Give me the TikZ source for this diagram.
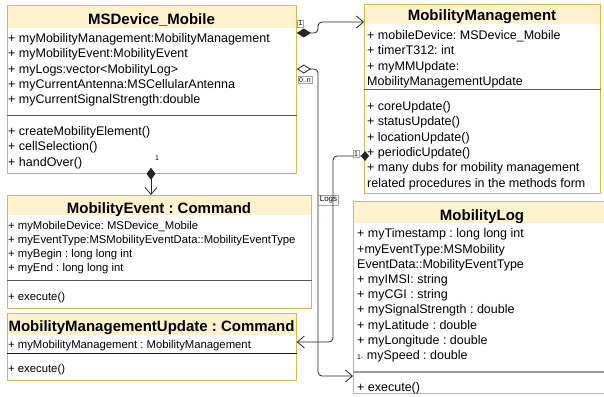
\documentclass[tikz,border=0pt]{standalone}
\usepackage{fontspec}
\setmainfont{Liberation Sans}
\usetikzlibrary{arrows.meta}
\frenchspacing
\definecolor{umlborder}{HTML}{D6B656}
\definecolor{umlfill}{HTML}{FFF2CC}
\newcommand{\umltitle}{\fontsize{15}{18}\selectfont\bfseries}
\newcommand{\umlnorm}{\fontsize{12.5}{15.3}\selectfont}
\newcommand{\umlsmall}{\fontsize{11.3}{14}\selectfont}
\newcommand{\umltiny}{\fontsize{7}{8}\selectfont}
\tikzset{
  >={Straight Barb[length=7pt,width=12pt]},
  classbox/.style={draw=umlborder, line width=0.8pt, fill=white, anchor=north west,
    inner sep=0pt, path picture={\fill[umlfill] (path picture bounding box.north west)
    rectangle ([yshift=-#1]path picture bounding box.north east);}},
  classtitle/.style={anchor=base, inner sep=0pt, font=\umltitle},
  classtext/.style={anchor=north west, inner sep=0pt, align=left, font=\umlnorm},
  classsep/.style={draw=black!65, line width=0.9pt},
  link/.style={draw=black!85, line width=0.8pt, rounded corners=4pt},
  compose/.style={link, {Diamond[length=14pt,width=9pt]}->},
  aggreg/.style={link, {Diamond[open,length=14pt,width=9pt]}->},
  mult/.style={draw=black!35, line width=0.4pt, fill=white, inner sep=1.2pt, font=\umltiny},
}

\begin{document}
\begin{tikzpicture}[x=1pt,y=-1pt]
\useasboundingbox (0,0) rectangle (604,396);

% MSDevice_Mobile
\node[classbox=23pt, minimum width=289pt, minimum height=168pt] (msd) at (7,5) {};
\node[classtitle] (msdtitle) at (151.5,25) {MSDevice\_Mobile};
\node[classtext] (msdattr) at (8,33.4) {+ myMobilityManagement:MobilityManagement\\
+ myMobilityEvent:MobilityEvent\\
+ myLogs:vector<MobilityLog>\\
+ myCurrentAntenna:MSCellularAntenna\\
+ myCurrentSignalStrength:double};
\draw[classsep] (msd.west |- 0,115) -- (msd.east |- 0,115);
\node[classtext] (msdops) at (8,126.4) {+ createMobilityElement()\\
+ cellSelection()\\
+ handOver()};

% MobilityManagement
\node[classbox=20pt, minimum width=236pt, minimum height=189pt] (mm) at (364,4) {};
\node[classtitle] (mmtitle) at (482,21) {MobilityManagement};
\node[classtext] (mmattr) at (367,30.4) {+ mobileDevice: MSDevice\_Mobile\\
+ timerT312: int\\
+ myMMUpdate:\\
MobilityManagementUpdate};
\draw[classsep] (mm.west |- 0,89) -- (mm.east |- 0,89);
\node[classtext] (mmops) at (367,101.4) {+ coreUpdate()\\
+ statusUpdate()\\
+ locationUpdate()\\
+ periodicUpdate()\\
+ many dubs for mobility management\\
related procedures in the methods form};

% MobilityEvent : Command
\node[classbox=20pt, minimum width=304pt, minimum height=113pt] (me) at (7,195) {};
\node[classtitle] (metitle) at (159,213.5) {MobilityEvent : Command};
\node[classtext, font=\umlsmall] (meattr) at (8,221.3) {+ myMobileDevice: MSDevice\_Mobile\\
+ myEventType:MSMobilityEventData::MobilityEventType\\
+ myBegin : long long int\\
+ myEnd : long long int};
\draw[classsep] (me.west |- 0,280) -- (me.east |- 0,280);
\node[classtext, font=\umlsmall] (meops) at (8,291.8) {+ execute()};

% MobilityManagementUpdate : Command
\node[classbox=22pt, minimum width=289pt, minimum height=67pt] (mmu) at (7,313) {};
\node[classtitle] (mmutitle) at (151.5,331.5) {MobilityManagementUpdate : Command};
\node[classtext, font=\umlsmall] (mmuattr) at (8,339.8) {+ myMobilityManagement : MobilityManagement};
\draw[classsep, draw=black!90] (mmu.west |- 0,353) -- (mmu.east |- 0,353);
\node[classtext, font=\umlsmall] (mmuops) at (8,363.8) {+ execute()};

% MobilityLog
\node[classbox=22pt, minimum width=258pt, minimum height=192pt] (ml) at (353,201) {};
\node[classtitle] (mltitle) at (482,220) {MobilityLog};
\node[classtext, font={\fontsize{12.5}{15.2}\selectfont}] (mlattr) at (357,228.7) {+ myTimestamp : long long int\\
+myEventType:MSMobility\\
EventData::MobilityEventType\\
+ myIMSI: string\\
+ myCGI : string\\
+ mySignalStrength : double\\
+ myLatitude : double\\
+ myLongitude : double\\
{\fontsize{7}{8}\selectfont 1-} mySpeed : double};
\draw[classsep, draw=black!40, line width=2pt] (ml.west |- 0,372) -- (ml.east |- 0,372);
\node[classtext] (mlops) at (357,382.4) {+ execute()};

% connectors
\draw[compose] (msd.east |- 0,33) -- (318,33) -- (318,22) -- (mm.west |- 0,22);
\node[mult] (m1) at (300.5,23.5) {1};
\draw[aggreg] (msd.east |- 0,69) -- (318,69) -- (318,376) -- (ml.west |- 0,376);
\node[mult] (m2) at (305,80) {0..n};
\node[mult, font=\fontsize{8}{9}\selectfont] (logs) at (328.5,200) {Logs};
\draw[link, {Diamond[length=8pt,width=10pt]}->] ([xshift=5pt]mm.west |- 0,156) -- (333,156) -- (333,342) -- (mmu.east |- 0,342);
\node[mult] (m3) at (356,154) {1};
\draw[link, {Diamond[length=12pt,width=9pt]}->] ([yshift=6pt]msd.south -| 151,0) -- (me.north -| 151,0);
\node[inner sep=0pt, font=\umltiny] (m4) at (157,158) {1};
\end{tikzpicture}
\end{document}
